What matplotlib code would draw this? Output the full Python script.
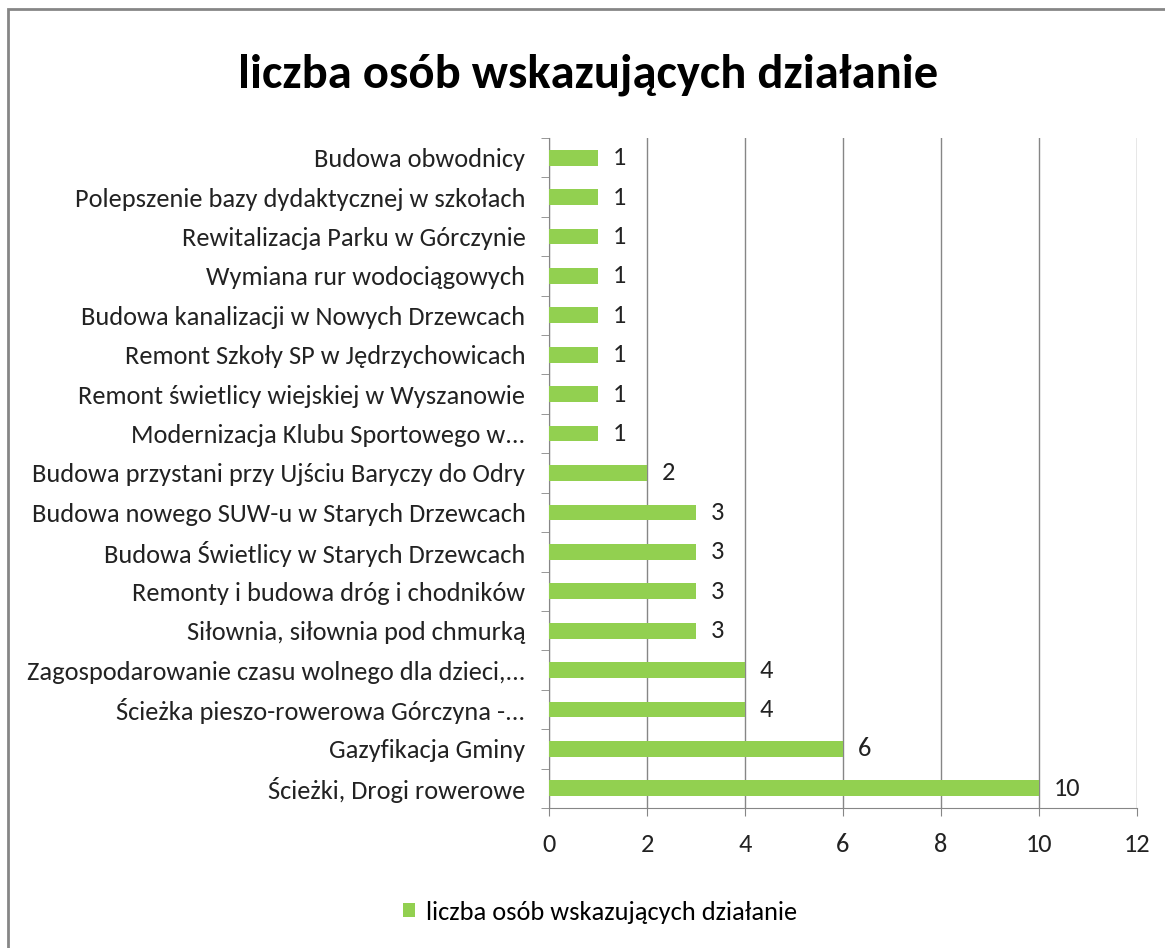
import numpy as np
import matplotlib.pyplot as plt
from matplotlib.patches import Rectangle
from matplotlib import font_manager

categories = [
    'Ścieżki, Drogi rowerowe',
    'Gazyfikacja Gminy',
    'Ścieżka pieszo-rowerowa Górczyna -...',
    'Zagospodarowanie czasu wolnego dla dzieci,...',
    'Siłownia, siłownia pod chmurką',
    'Remonty i budowa dróg i chodników',
    'Budowa Świetlicy w Starych Drzewcach',
    'Budowa nowego SUW-u w Starych Drzewcach',
    'Budowa przystani przy Ujściu Baryczy do Odry',
    'Modernizacja Klubu Sportowego w...',
    'Remont świetlicy wiejskiej w Wyszanowie',
    'Remont Szkoły SP w Jędrzychowicach',
    'Budowa kanalizacji w Nowych Drzewcach',
    'Wymiana rur wodociągowych',
    'Rewitalizacja Parku w Górczynie',
    'Polepszenie bazy dydaktycznej w szkołach',
    'Budowa obwodnicy',
]
values = [10, 6, 4, 4, 3, 3, 3, 3, 2, 1, 1, 1, 1, 1, 1, 1, 1]
series_name = 'liczba osób wskazujących działanie'
green = '#92d050'

names = set(f.name for f in font_manager.fontManager.ttflist)
if 'Carlito' in names:
    plt.rcParams['font.family'] = ['Carlito', 'DejaVu Sans']
    fs, tfs = 19, 35
else:
    plt.rcParams['font.family'] = ['DejaVu Sans']
    plt.rcParams['font.stretch'] = 'condensed'
    fs, tfs = 16, 28

fig = plt.figure(figsize=(11.65, 9.48), dpi=100)
fig.patches.append(Rectangle((0.007, -0.01), 1.1, 1.0, transform=fig.transFigure,
                             fill=False, edgecolor='#868686', linewidth=2))

ax = fig.add_axes([549 / 1165, 1 - 808 / 948, (1137 - 549) / 1165, (808 - 138) / 948])
y = np.arange(len(categories))
bars = ax.barh(y, values, height=0.4, color=green, label=series_name, zorder=3)
for yi, v in zip(y, values):
    ax.text(v + 0.3, yi, str(v), va='center', ha='left', fontsize=fs, color='#222222')

ax.set_xlim(0, 12)
ax.set_ylim(-0.5, len(categories) - 0.5)
ax.set_xticks(range(0, 13, 2))
ax.tick_params(axis='x', labelsize=fs, length=6, color='#868686', pad=12, labelcolor='#222222')
ax.grid(axis='x', color='#868686', linewidth=1, zorder=0)

ax.set_yticks(y)
ax.set_yticklabels(categories, fontsize=fs, color='#222222')
ax.tick_params(axis='y', length=0, pad=17)
ax.set_yticks(np.arange(-0.5, len(categories), 1), minor=True)
ax.tick_params(axis='y', which='minor', length=6, color='#868686')

for s in ['top', 'right']:
    ax.spines[s].set_visible(False)
ax.spines['left'].set_color('#868686')
ax.spines['bottom'].set_color('#868686')

fig.text(588 / 1165, 1 - 75 / 948, series_name, ha='center', va='center',
         fontsize=tfs, fontweight='bold')

fig.legend(handles=[bars], labels=[series_name], loc='center',
           bbox_to_anchor=(600 / 1165, 1 - 912 / 948), frameon=False,
           fontsize=fs, handlelength=0.45, handleheight=0.45, handletextpad=0.4)

fig.savefig('out.png', dpi=100)
